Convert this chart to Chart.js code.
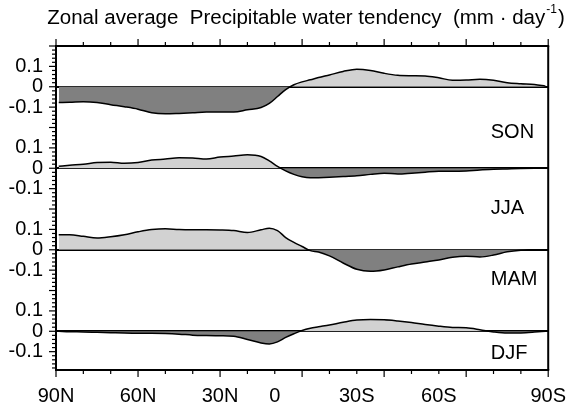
<!DOCTYPE html>
<html><head><meta charset="utf-8">
<script src="https://cdn.jsdelivr.net/npm/chart.js@4.4.1/dist/chart.umd.min.js"></script>
<style>html,body{margin:0;padding:0;background:#fff}#wrap{width:580px;height:410px}</style>
</head><body><div id="wrap"><canvas id="c" width="580" height="410"></canvas></div>
<script>
// ---- data (mm/day), latitude +N / -S ----
const latitudes = [89,85,80,75,70,65,60,55,50,45,40,35,30,25,20,15,12,9,6,3,0,-3,-6,-10,-15,-20,-25,-30,-35,-40,-45,-50,-55,-60,-65,-70,-75,-80,-85,-89];
const son = [-0.077,-0.076,-0.073,-0.077,-0.088,-0.098,-0.110,-0.128,-0.133,-0.131,-0.128,-0.124,-0.124,-0.124,-0.113,-0.102,-0.082,-0.048,-0.014,0.010,0.024,0.034,0.045,0.058,0.075,0.086,0.080,0.066,0.056,0.054,0.053,0.044,0.032,0.033,0.037,0.032,0.020,0.015,0.011,0.003];
const jja = [0.010,0.015,0.020,0.028,0.030,0.024,0.028,0.040,0.045,0.051,0.050,0.045,0.055,0.060,0.066,0.058,0.036,0.009,-0.013,-0.030,-0.042,-0.047,-0.046,-0.044,-0.041,-0.037,-0.030,-0.024,-0.028,-0.024,-0.019,-0.015,-0.015,-0.013,-0.008,-0.005,-0.003,-0.001,0,0];
const mam = [0.074,0.074,0.066,0.058,0.064,0.074,0.088,0.099,0.103,0.099,0.098,0.098,0.097,0.094,0.085,0.098,0.106,0.094,0.060,0.036,0.016,-0.004,-0.011,-0.030,-0.065,-0.096,-0.106,-0.099,-0.084,-0.070,-0.060,-0.050,-0.037,-0.032,-0.035,-0.026,-0.010,-0.002,0,0];
const djf = [0,-0.002,-0.003,-0.005,-0.007,-0.009,-0.010,-0.010,-0.011,-0.014,-0.019,-0.021,-0.022,-0.024,-0.040,-0.057,-0.062,-0.052,-0.030,-0.012,0.004,0.015,0.022,0.031,0.044,0.055,0.058,0.057,0.051,0.043,0.033,0.025,0.019,0.017,0.008,-0.003,-0.009,-0.008,-0.004,0];
const seasonNames = ['SON','JJA','MAM','DJF'];
const seasonSeries = [son, jja, mam, djf];
const panelOffsets = [1.2, 0.8, 0.4, 0];
const xTickValues = [90, 60, 30, 10, -20, -50, -90];
const xTickLabels = ['90N','60N','30N','0','30S','60S','90S'];
const yTickLabelValues = [0.1, 0, -0.1];
const titleMain = 'Zonal average  Precipitable water tendency  (mm \u00B7 day';
const titleSup = '-1';
const titleEnd = ')';

const FONT = '"Liberation Sans", Arial, Helvetica, sans-serif';
const LIGHT = '#d2d2d2', DARK = '#808080';
const labelRel = [-0.222, -0.195, -0.148, -0.107];

const datasets = seasonSeries.map((vals, i) => ({
  label: seasonNames[i],
  data: latitudes.map((lat, j) => ({x: lat, y: vals[j] + panelOffsets[i]})),
  borderColor: '#000', borderWidth: 1.5, pointRadius: 0,
  cubicInterpolationMode: 'monotone',
  fill: {target: {value: panelOffsets[i]}, above: LIGHT, below: DARK}
}));

function yLabel(v) {
  for (const off of panelOffsets) {
    for (const t of yTickLabelValues) {
      if (Math.abs(v - (off + t)) < 1e-6) return String(t);
    }
  }
  return '';
}

const framePlugin = {
  id: 'frame',
  afterDraw(chart) {
    const {ctx, chartArea: a, scales: {x, y}} = chart;
    ctx.save();
    ctx.strokeStyle = '#000';
    const line = (x1, y1, x2, y2) => { ctx.beginPath(); ctx.moveTo(x1, y1); ctx.lineTo(x2, y2); ctx.stroke(); };
    ctx.lineWidth = 1.2;
    for (let lat = -90; lat <= 90; lat += 10) {
      const px = x.getPixelForValue(lat);
      const len = lat % 30 === 0 ? 7 : 4;
      line(px, a.bottom, px, a.bottom + len);
      line(px, a.top, px, a.top - len);
    }
    for (let k = -9; k <= 70; k++) {
      const v = k * 0.02;
      if (v < y.min - 1e-9 || v > y.max + 1e-9) continue;
      const py = y.getPixelForValue(v);
      const len = k % 5 === 0 ? 7 : 4;
      line(a.left - len, py, a.left, py);
    }
    // frame
    ctx.lineWidth = 2;
    line(a.left - 1, a.top, a.right + 1, a.top);
    line(a.left - 1, a.bottom, a.right + 1, a.bottom);
    line(a.left, a.top, a.left, a.bottom);
    line(a.right, a.top, a.right, a.bottom);
    // season labels
    ctx.fillStyle = '#000';
    ctx.font = '20px ' + FONT;
    ctx.textAlign = 'left'; ctx.textBaseline = 'middle';
    seasonNames.forEach((n, i) => {
      ctx.fillText(n, x.getPixelForValue(-69), y.getPixelForValue(panelOffsets[i] + labelRel[i]));
    });
    // title
    ctx.textBaseline = 'alphabetic';
    const fMain = '20.5px ' + FONT, fSup = '12px ' + FONT;
    ctx.font = fMain; const w1 = ctx.measureText(titleMain).width; const w3 = ctx.measureText(titleEnd).width;
    ctx.font = fSup; const w2 = ctx.measureText(titleSup).width;
    const total = w1 + w2 + 2 + w3;
    let tx = 306 - total / 2; const base = 24;
    ctx.font = fMain; ctx.fillText(titleMain, tx, base); tx += w1;
    ctx.font = fSup; ctx.fillText(titleSup, tx + 1, base - 11); tx += w2 + 2;
    ctx.font = fMain; ctx.fillText(titleEnd, tx, base);
    ctx.restore();
  }
};

new Chart(document.getElementById('c'), {
  type: 'line',
  data: {datasets},
  options: {
    responsive: false, devicePixelRatio: 1, animation: false,
    layout: {padding: {top: 46, right: 24.5, left: 0, bottom: 0}},
    plugins: {legend: {display: false}, title: {display: false}, tooltip: {enabled: false}},
    scales: {
      x: {
        type: 'linear', reverse: true, min: -90, max: 90,
        afterBuildTicks: s => { s.ticks = xTickValues.map(v => ({value: v})); },
        afterFit: s => { s.height = 40; },
        ticks: {autoSkip: false, maxRotation: 0, padding: 14, color: '#000', font: {family: FONT, size: 20},
          callback: v => { const i = xTickValues.indexOf(v); return i >= 0 ? xTickLabels[i] : ''; }},
        grid: {display: false, drawTicks: false},
        border: {display: true, color: '#000', width: 2}
      },
      y: {
        type: 'linear', min: -0.19, max: 1.4, z: 1,
        afterBuildTicks: s => { const t = []; for (let k = -1; k <= 14; k++) t.push({value: Math.round(k) / 10}); s.ticks = t; },
        afterFit: s => { s.width = 56; },
        ticks: {autoSkip: false, padding: 13, color: '#000', font: {family: FONT, size: 20}, callback: v => yLabel(v)},
        grid: {drawTicks: false, lineWidth: 2,
          color: c => (c.tick && panelOffsets.some(o => Math.abs(o - c.tick.value) < 1e-6)) ? '#000' : 'rgba(0,0,0,0)'},
        border: {display: true, color: '#000', width: 2}
      }
    }
  },
  plugins: [framePlugin]
});
</script></body></html>
